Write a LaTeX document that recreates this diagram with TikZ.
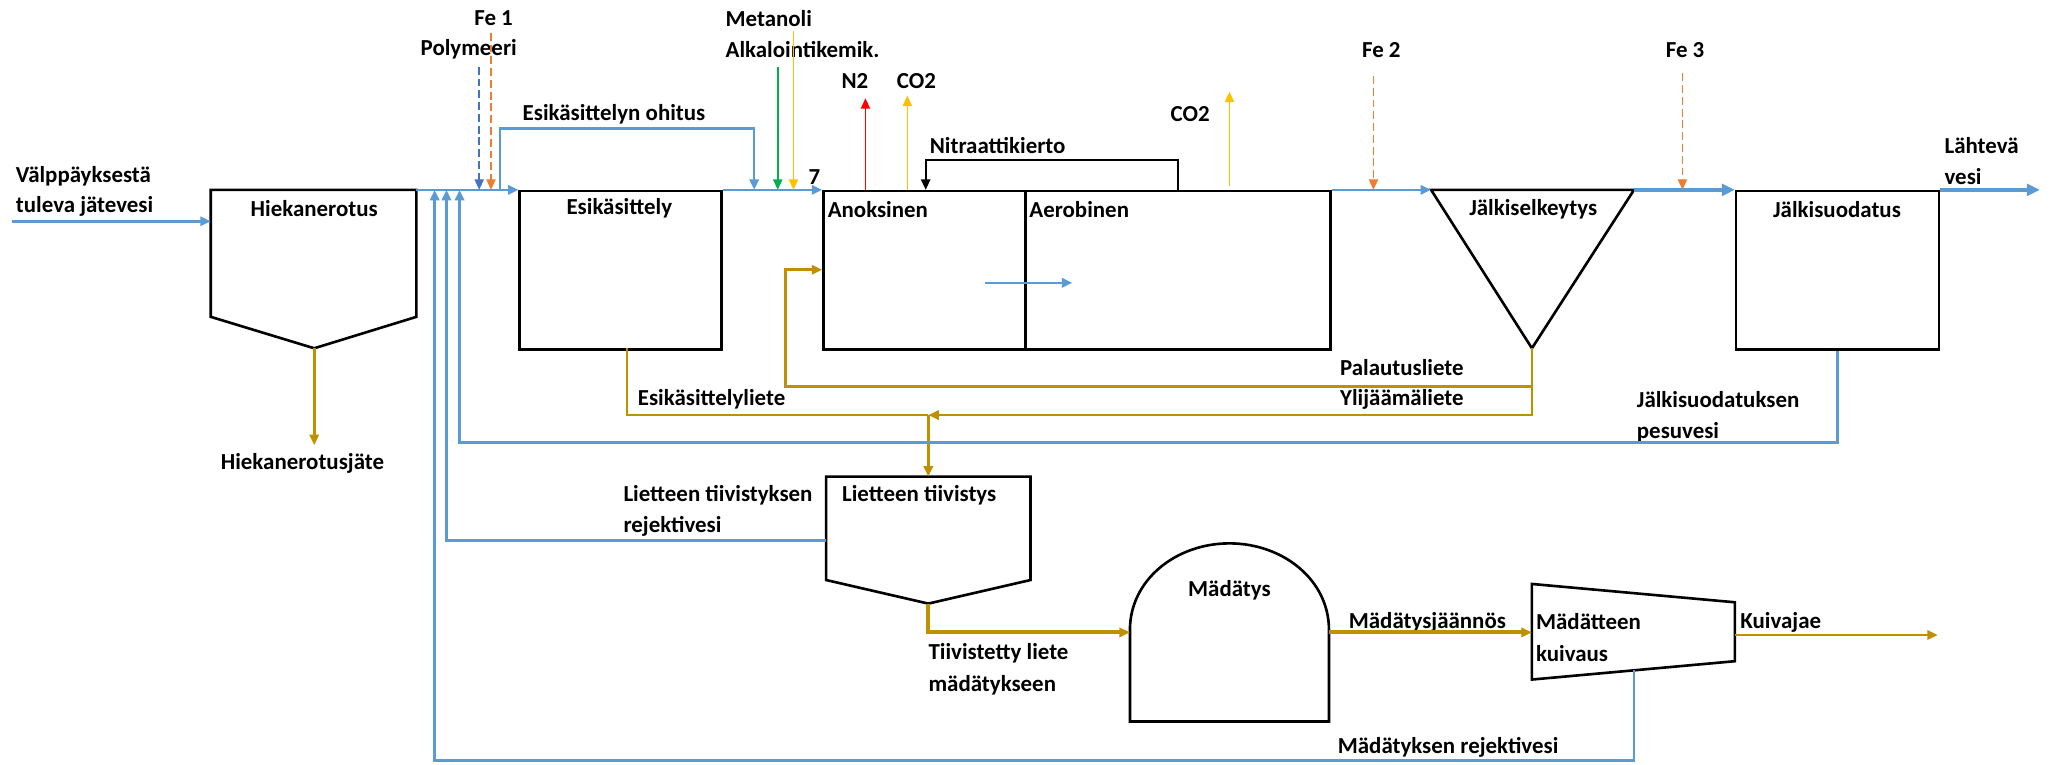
\documentclass[tikz,border=0pt]{standalone}
\usepackage{fontspec}
\setmainfont{Carlito}
\usetikzlibrary{arrows.meta}
\definecolor{wblue}{RGB}{91,155,213}
\definecolor{sgold}{RGB}{191,144,0}
\definecolor{forange}{RGB}{237,125,49}
\definecolor{pblue}{RGB}{68,114,196}
\definecolor{mgreen}{RGB}{0,176,80}
\definecolor{myellow}{RGB}{255,192,0}
\definecolor{mred}{RGB}{255,0,0}
\begin{document}
\begin{tikzpicture}[x=1pt,y=-1pt,
  txt/.style={font=\fontsize{17.5}{21}\selectfont\bfseries, inner sep=0pt, text=black},
  shapeline/.style={draw=black, line width=2pt, line join=miter},
  box/.style={draw=black, line width=2pt, minimum height=121pt, anchor=north west, inner sep=0pt},
  water/.style={draw=wblue, line width=2pt},
  thickwater/.style={draw=wblue, line width=3.5pt},
  sludge/.style={draw=sgold, line width=2pt},
  thicksludge/.style={draw=sgold, line width=3pt},
  chem/.style={line width=1.2pt},
  dashline/.style={dash pattern=on 6pt off 3pt},
  tip/.style={-{Triangle[length=8pt,width=7pt]}},
  bigtip/.style={-{Triangle[length=10pt,width=9pt]}}]
\useasboundingbox (0,0) rectangle (1568,584);

% ---------- boxes ----------
\node[box, minimum width=154pt] (esi) at (396,145) {};
\node[box, minimum width=154pt] (anox) at (628,145) {};
\node[box, minimum width=233pt] (aero) at (782,145) {};
\node[box, minimum width=155pt] (suod) at (1325,145) {};

% Hiekanerotus
\coordinate (hkTL) at (161,145);
\coordinate (hkTR) at (318,145);
\coordinate (hkRB) at (318,242);
\coordinate (hkB) at (240,266);
\coordinate (hkLB) at (161,242);
\coordinate (hkIn) at (161,169);
\draw[shapeline] (hkTL) -- (hkTR) -- (hkRB) -- (hkB) -- (hkLB) -- cycle;

% Jälkiselkeytys
\coordinate (jsTL) at (1093,145);
\coordinate (jsTR) at (1248,145);
\coordinate (jsB) at (1170,266);
\draw[shapeline] (jsTL) -- (jsTR) -- (jsB) -- cycle;

% Lietteen tiivistys
\coordinate (ltTL) at (631,364);
\coordinate (ltTR) at (787,364);
\coordinate (ltRB) at (787,443);
\coordinate (ltB) at (709,461);
\coordinate (ltLB) at (631,443);
\coordinate (ltTop) at (709,364);
\coordinate (ltRej) at (631,413);
\draw[shapeline] (ltTL) -- (ltTR) -- (ltRB) -- (ltB) -- (ltLB) -- cycle;

% Mädätys
\coordinate (madL) at (863,481);
\coordinate (madR) at (1015,481);
\coordinate (madTop) at (939,415);
\coordinate (madBR) at (1015,551);
\coordinate (madBL) at (863,551);
\coordinate (madIn) at (863,483);
\coordinate (madOut) at (1015,483);
\draw[shapeline] (madL) .. controls (863,443) and (898,415) .. (madTop)
  .. controls (980,415) and (1015,443) .. (madR) -- (madBR) -- (madBL) -- cycle;

% Mädätteen kuivaus
\coordinate (mkTL) at (1170,446);
\coordinate (mkTR) at (1325,460);
\coordinate (mkBR) at (1325,505);
\coordinate (mkBL) at (1170,519);
\coordinate (mkIn) at (1170,483);
\coordinate (mkOut) at (1325,485);
\coordinate (mkRej) at (1248,512);
\draw[shapeline] (mkTL) -- (mkTR) -- (mkBR) -- (mkBL) -- cycle;

% ---------- texts ----------
\node[txt, anchor=west] (inA) at (12,135) {Välppäyksestä};
\node[txt, anchor=west] (inB) at (12,158) {tuleva jätevesi};
\node[txt] (hkT) at (240,159) {Hiekanerotus};
\node[txt] (hkJ) at (231,354) {Hiekanerotusjäte};
\node[txt] (fe1) at (377,14) {Fe 1};
\node[txt] (poly) at (358,38) {Polymeeri};
\node[txt, anchor=west] (ohit) at (399,87) {Esikäsittelyn ohitus};
\node[txt] (esiT) at (473,159) {Esikäsittely};
\node[txt, anchor=west] (met) at (554,14) {Metanoli};
\node[txt, anchor=west] (alk) at (554,38) {Alkalointikemik.};
\node[txt] (seven) at (622,135) {7};
\node[txt] (n2) at (653,62) {N2};
\node[txt] (co2a) at (700,62) {CO2};
\node[txt] (co2b) at (909,87) {CO2};
\node[txt, anchor=west] (nitT) at (710,111) {Nitraattikierto};
\node[txt, anchor=west] (anoT) at (632,160) {Anoksinen};
\node[txt, anchor=west] (aerT) at (786,160) {Aerobinen};
\node[txt] (fe2) at (1055,38) {Fe 2};
\node[txt] (fe3) at (1287,38) {Fe 3};
\node[txt] (jsT) at (1171,160) {Jälkiselkeytys};
\node[txt] (suT) at (1403,160) {Jälkisuodatus};
\node[txt, anchor=west] (outA) at (1485,111) {Lähtevä};
\node[txt, anchor=west] (outB) at (1485,135) {vesi};
\node[txt, anchor=east] (palT) at (1118,281) {Palautusliete};
\node[txt, anchor=east] (yliT) at (1118,305) {Ylijäämäliete};
\node[txt, anchor=west] (esiL) at (487,305) {Esikäsittelyliete};
\node[txt, anchor=west] (pesA) at (1250,305) {Jälkisuodatuksen};
\node[txt, anchor=west] (pesB) at (1250,330) {pesuvesi};
\node[txt, anchor=west] (ltA) at (476,378) {Lietteen tiivistyksen};
\node[txt, anchor=west] (ltB2) at (476,402) {rejektivesi};
\node[txt, anchor=west] (ltT) at (643,378) {Lietteen tiivistys};
\node[txt] (madT) at (939,451) {Mädätys};
\node[txt, anchor=west] (tiA) at (709,499) {Tiivistetty liete};
\node[txt, anchor=west] (tiB) at (709,523) {mädätykseen};
\node[txt, anchor=west] (mjT) at (1030,475) {Mädätysjäännös};
\node[txt, anchor=west] (mkA) at (1173,475) {Mädätteen};
\node[txt, anchor=west] (mkB) at (1173,499) {kuivaus};
\node[txt, anchor=west] (kuT) at (1329,475) {Kuivajae};
\node[txt] (mrT) at (1106,571) {Mädätyksen rejektivesi};

% ---------- water line ----------
\coordinate (src) at (9,169);
\draw[water,tip] (src) -- (hkIn);
\draw[water,tip] (hkTR) -- (esi.north west);
\coordinate (byA) at (382,145);
\coordinate (byTop) at (479,98);
\coordinate (byB) at (576,145);
\draw[water,tip] (byA) |- (byTop) -| (byB);
\draw[water,tip] (esi.north east) -- (anox.north west);
\draw[water,tip] (aero.north east) -- (jsTL);
\draw[thickwater,bigtip] (jsTR) -- (suod.north west);
\coordinate (outEnd) at (1558,145);
\draw[thickwater,bigtip] (suod.north east) -- (outEnd);
\coordinate (inA1) at (752,216);
\coordinate (inA2) at (819,216);
\draw[water,tip] (inA1) -- (inA2);

% chemicals and gases
\coordinate (polyS) at (366,51); \coordinate (polyE) at (366,145);
\draw[pblue,chem,dashline,tip] (polyS) -- (polyE);
\coordinate (fe1S) at (375,25); \coordinate (fe1E) at (375,145);
\draw[forange,chem,dashline,tip] (fe1S) -- (fe1E);
\coordinate (grS) at (594,51); \coordinate (grE) at (594,145);
\draw[mgreen,chem,tip] (grS) -- (grE);
\coordinate (yeS) at (606,24); \coordinate (yeE) at (606,145);
\draw[myellow,chem,tip] (yeS) -- (yeE);
\coordinate (n2S) at (661,145); \coordinate (n2E) at (661,75);
\draw[mred,chem,tip] (n2S) -- (n2E);
\coordinate (coaS) at (693,145); \coordinate (coaE) at (693,73);
\draw[myellow,chem,tip] (coaS) -- (coaE);
\coordinate (cobS) at (939,142); \coordinate (cobE) at (939,70);
\draw[myellow,chem,tip] (cobS) -- (cobE);
\coordinate (fe2S) at (1049,58); \coordinate (fe2E) at (1049,145);
\draw[forange,chem,dashline,tip] (fe2S) -- (fe2E);
\coordinate (fe3S) at (1285,56); \coordinate (fe3E) at (1285,145);
\draw[forange,chem,dashline,tip] (fe3S) -- (fe3E);

% nitrate recycle
\coordinate (nitA) at (900,145);
\coordinate (nitTop) at (800,122);
\coordinate (nitB) at (707,145);
\draw[black,line width=1.5pt,tip] (nitA) |- (nitTop) -| (nitB);

% ---------- sludge ----------
\coordinate (gritEnd) at (240,340);
\draw[sludge,tip] (hkB) -- (gritEnd);
\coordinate (jsLow) at (1170,317);
\coordinate (yliJ) at (709,317);
\draw[sludge,tip] (jsB) -- (jsLow) -- (yliJ);
\coordinate (palS) at (1170,295);
\coordinate (palC) at (600,295);
\coordinate (anoIn) at (628,206);
\draw[sludge,tip] (palS) -- (palC) |- (anoIn);
\coordinate (esiB) at (479,266);
\draw[sludge] (esiB) |- (yliJ);
\draw[sludge,tip] (yliJ) -- (ltTop);
\draw[thicksludge,tip] (ltB) |- (madIn);
\draw[thicksludge,tip] (madOut) -- (mkIn);
\coordinate (kuEnd) at (1480,485);
\draw[sludge,tip] (mkOut) -- (kuEnd);

% ---------- reject waters ----------
\coordinate (upA) at (332,145);
\coordinate (upB) at (341,145);
\coordinate (upC) at (351,145);
\coordinate (pesC) at (800,338);
\coordinate (botC) at (800,581);
\draw[water,tip] (suod.south) |- (pesC) -| (upC);
\draw[water,tip] (ltRej) -| (upB);
\draw[water,tip] (mkRej) |- (botC) -| (upA);
\end{tikzpicture}
\end{document}
